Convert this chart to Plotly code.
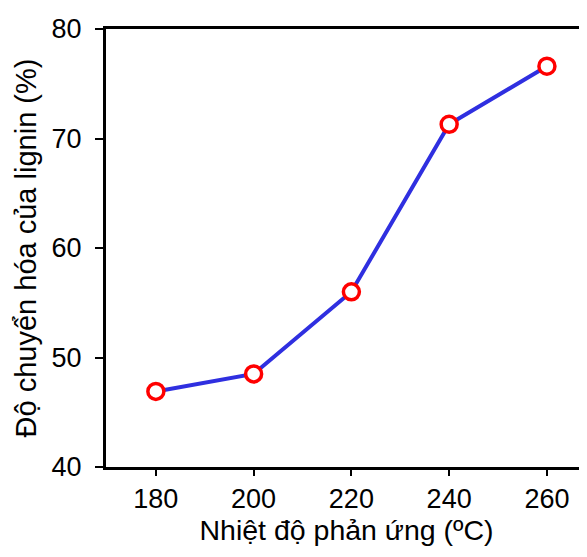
import plotly.graph_objects as go

temps = [180, 200, 220, 240, 260]
conversion = [46.9, 48.5, 56.0, 71.3, 76.6]
x_ticks = [180, 200, 220, 240, 260]
y_ticks = [40, 50, 60, 70, 80]

fig = go.Figure()
fig.add_trace(go.Scatter(
    x=temps, y=conversion, mode="lines+markers",
    line=dict(color="#2f2fe0", width=4),
    marker=dict(symbol="circle", size=16, color="white",
                line=dict(color="#ff0000", width=3.5)),
    showlegend=False,
))

tick_font = dict(family="Liberation Sans, Arial, sans-serif", size=27, color="black")
xtitle_font = dict(family="Liberation Sans, Arial, sans-serif", size=28.5, color="black")
ytitle_font = dict(family="Liberation Sans, Arial, sans-serif", size=29, color="black")
fig.update_layout(
    width=579, height=541,
    margin=dict(l=98, r=0, t=21, b=82),
    plot_bgcolor="white", paper_bgcolor="white",
    font=tick_font,
)
fig.update_xaxes(
    range=[169.8, 268.2], tickvals=x_ticks, ticks="outside", ticklen=6, tickwidth=2,
    tickcolor="black", showline=True, linecolor="black", linewidth=3, mirror=True,
    showgrid=False, zeroline=False, tickfont=tick_font,
    title=dict(text="Nhiệt độ phản ứng (ºC)", font=xtitle_font, standoff=6),
)
fig.update_yaxes(
    range=[40, 80], tickvals=y_ticks, ticks="outside", ticklen=8, tickwidth=2,
    tickcolor="black", showline=True, linecolor="black", linewidth=3,
    showgrid=False, zeroline=False, tickfont=tick_font, ticklabelstandoff=8,
    title=dict(text="Độ chuyển hóa của lignin (%)", font=ytitle_font, standoff=7),
)
fig.write_html("out.html")
